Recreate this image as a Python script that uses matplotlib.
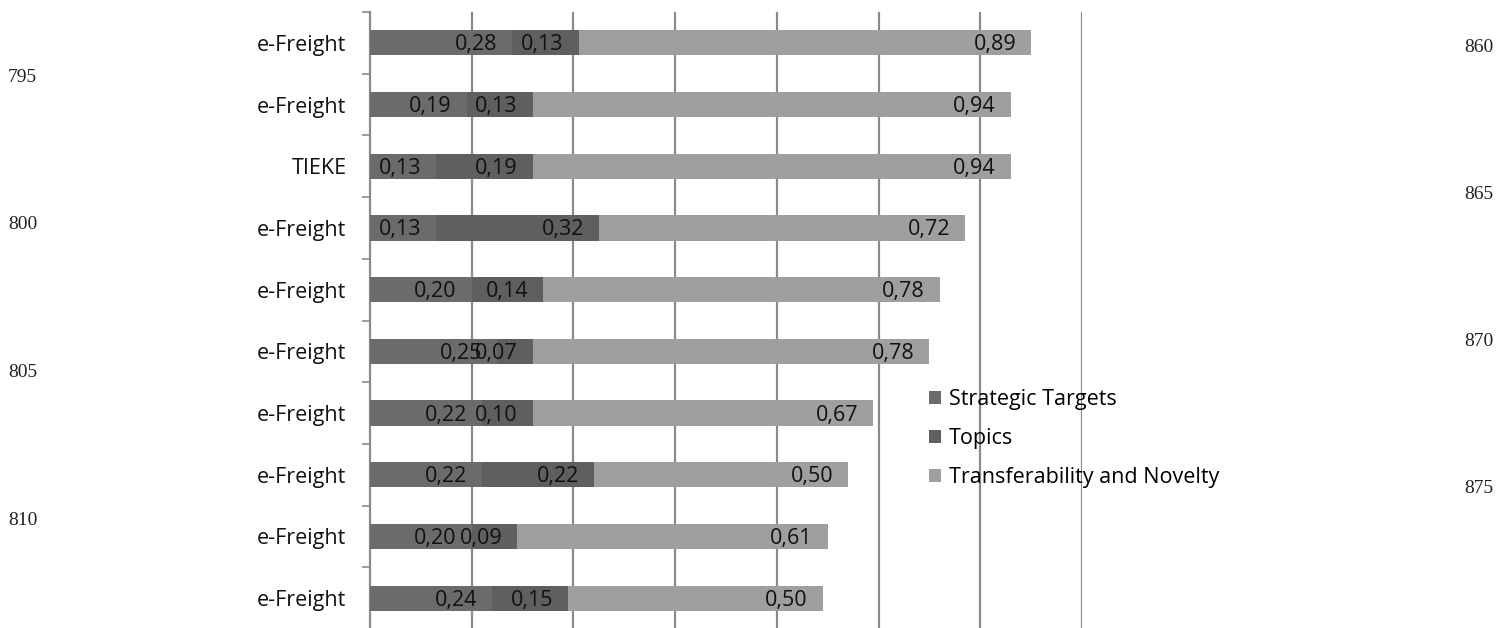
import matplotlib
matplotlib.use("Agg")
import matplotlib.pyplot as plt
import numpy as np

categories = ["e-Freight", "e-Freight", "TIEKE", "e-Freight", "e-Freight",
              "e-Freight", "e-Freight", "e-Freight", "e-Freight", "e-Freight"]
strategic = [0.28, 0.19, 0.13, 0.13, 0.20, 0.25, 0.22, 0.22, 0.20, 0.24]
topics = [0.13, 0.13, 0.19, 0.32, 0.14, 0.07, 0.10, 0.22, 0.09, 0.15]
transfer = [0.89, 0.94, 0.94, 0.72, 0.78, 0.78, 0.67, 0.50, 0.61, 0.50]
series_names = ["Strategic Targets", "Topics", "Transferability and Novelty"]
colors = ["#6b6b6b", "#5f5f5f", "#9f9f9f"]
left_margin_nums = ["795", "800", "805", "810"]
right_margin_nums = ["860", "865", "870", "875"]

W, H = 1506, 628
fig = plt.figure(figsize=(W / 100, H / 100), dpi=100)
font = "Open Sans"
fs = 15.5

ax = fig.add_axes([370 / W, 1 - 629 / H, 712 / W, 617 / H])
n = len(categories)
y = np.arange(n)
ax.set_ylim(n - 0.5, -0.5)
ax.set_xlim(0, 1.4)

left = np.zeros(n)
for vals, name, c in zip([strategic, topics, transfer], series_names, colors):
    vals = np.array(vals)
    ax.barh(y, vals, left=left, height=0.41, color=c, label=name, zorder=3)
    for yi, l, v in zip(y, left, vals):
        ax.annotate(f"{v:.2f}".replace(".", ","), xy=(l + v, yi), xytext=(-15, -2),
                    textcoords="offset pixels", ha="right", va="center",
                    fontsize=fs, family=font, color="#111111", zorder=4)
    left = left + vals

ax.set_xticks(np.arange(0.2, 1.41, 0.2))
ax.xaxis.grid(True, color="#8a8a8a", linewidth=1.6, zorder=1)
ax.tick_params(axis="x", length=0, labelbottom=False)
for s in ["top", "right", "bottom"]:
    ax.spines[s].set_visible(False)
ax.spines["left"].set_color("#8a8a8a")
ax.spines["left"].set_linewidth(1.6)

ax.set_yticks(y)
ax.set_yticklabels(categories, fontsize=fs, family=font, color="#111111")
ax.tick_params(axis="y", which="major", length=0, pad=17)
ax.set_yticks(np.arange(-0.5, n, 1.0), minor=True)
ax.tick_params(axis="y", which="minor", length=6, width=1.2, color="#8a8a8a")

leg = fig.legend(loc="upper left", bbox_to_anchor=(910 / W, 1 - 370 / H),
                 frameon=False, prop={"family": font, "size": fs},
                 handlelength=0.55, handleheight=0.55, handletextpad=0.35,
                 labelspacing=0.82)

for i, t in enumerate(left_margin_nums):
    fig.text(8 / W, 1 - (77 + i * 147.7) / H, t, family="Liberation Serif",
             fontsize=14, va="center", ha="left", color="#222222")
for i, t in enumerate(right_margin_nums):
    fig.text(1464 / W, 1 - (47 + i * 147.3) / H, t, family="Liberation Serif",
             fontsize=14, va="center", ha="left", color="#222222")

fig.savefig("out.png", dpi=100)
